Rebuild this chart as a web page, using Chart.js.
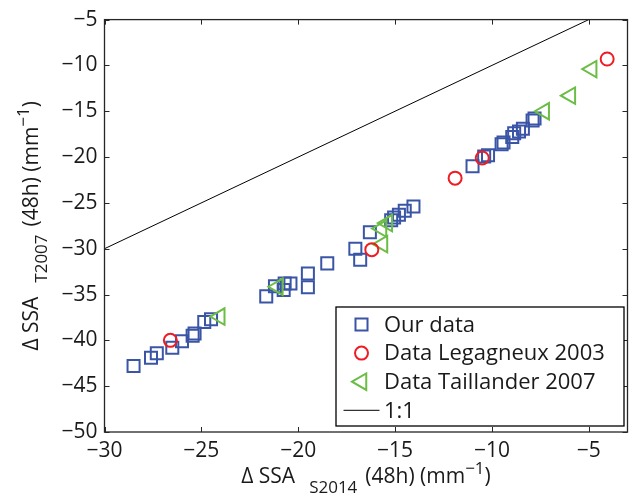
<!DOCTYPE html>
<html lang="en">
<head>
<meta charset="UTF-8">
<title>Delta SSA S2014 vs T2007</title>
<script src="https://cdn.jsdelivr.net/npm/chart.js"></script>
<style>
  html, body { margin: 0; padding: 0; background: #fff; }
  #wrap { width: 639px; height: 495px; }
</style>
</head>
<body>
<div id="wrap"><canvas id="ssaChart"></canvas></div>
<script>
// tick values
const xTickVals = [-30, -25, -20, -15, -10, -5];
const yTickVals = [-50, -45, -40, -35, -30, -25, -20, -15, -10, -5];

// Our data (blue squares)
const ourX = [-28.5, -27.6, -27.3, -26.5, -26.0, -25.45, -25.35, -24.85, -24.5,
  -21.65, -21.2, -20.75, -20.7, -20.4, -19.5, -19.5, -18.5, -17.05, -16.8, -16.3,
  -15.2, -15.05, -14.8, -14.5, -14.05, -11.0, -10.4, -10.2, -9.5, -9.4, -8.95, -8.85, -8.6, -8.4, -7.9, -7.8];
const ourY = [-42.8, -41.9, -41.4, -40.8, -40.1, -39.5, -39.25, -38.0, -37.7,
  -35.2, -34.1, -34.5, -33.8, -33.8, -34.2, -32.7, -31.6, -30.0, -31.2, -28.2,
  -26.9, -26.6, -26.3, -25.85, -25.4, -21.0, -19.95, -19.8, -18.6, -18.4, -17.8, -17.4, -17.2, -16.9, -16.0, -15.8];

// Legagneux 2003 (red circles)
const legX = [-26.6, -16.2, -11.9, -10.5, -4.05];
const legY = [-40.0, -30.1, -22.3, -20.1, -9.3];

// Taillander 2007 (green triangles)
const taiX = [-24.05, -21.05, -15.65, -15.7, -15.4, -7.3, -5.95, -4.85];
const taiY = [-37.4, -34.15, -29.5, -27.8, -27.2, -15.0, -13.3, -10.4];

// 1:1 line
const refX = [-30, -5];
const refY = [-30, -5];

const FONT = '"Open Sans", "DejaVu Sans", sans-serif';
const TXT = '#1a1a1a';
const AXIS = '#262626';

const pts = (xs, ys) => xs.map((v, i) => ({x: v, y: ys[i]}));
const minus = v => String(v).replace('-', '\u2212');

// hollow markers, used for the legend too
function marker(ctx, style, x, y, r, rot) {
  ctx.beginPath();
  if (style === 'rect') {
    const s = Math.SQRT1_2 * r;
    ctx.rect(x - s, y - s, 2 * s, 2 * s);
  } else if (style === 'circle') {
    ctx.arc(x, y, r, 0, Math.PI * 2);
  } else if (style === 'triangle') {
    let a = rot * Math.PI / 180;
    ctx.moveTo(x + Math.sin(a) * r, y - Math.cos(a) * r);
    for (let k = 0; k < 2; k++) {
      a += 2 * Math.PI / 3;
      ctx.lineTo(x + Math.sin(a) * r, y - Math.cos(a) * r);
    }
    ctx.closePath();
  } else {
    ctx.moveTo(x - 18, y);
    ctx.lineTo(x + 18, y);
  }
  ctx.stroke();
}

// box round the axes with inward ticks on all sides
const frameTicks = {
  id: 'frameTicks',
  afterDatasetsDraw(chart) {
    const {ctx, chartArea: a, scales: {x, y}} = chart;
    const len = 5;
    ctx.save();
    ctx.strokeStyle = AXIS;
    ctx.lineWidth = 1.3;
    ctx.strokeRect(a.left, a.top, a.right - a.left, a.bottom - a.top);
    ctx.beginPath();
    x.ticks.forEach(t => {
      const px = Math.round(x.getPixelForValue(t.value)) + 0.5;
      ctx.moveTo(px, a.bottom); ctx.lineTo(px, a.bottom - len);
      ctx.moveTo(px, a.top); ctx.lineTo(px, a.top + len);
    });
    y.ticks.forEach(t => {
      const py = Math.round(y.getPixelForValue(t.value)) + 0.5;
      ctx.moveTo(a.left, py); ctx.lineTo(a.left + len, py);
      ctx.moveTo(a.right, py); ctx.lineTo(a.right - len, py);
    });
    ctx.lineWidth = 1;
    ctx.stroke();
    ctx.restore();
  }
};

// legend box in the lower right corner
const boxLegend = {
  id: 'boxLegend',
  afterDraw(chart) {
    const {ctx, chartArea: a} = chart;
    const w = 288, h = 119;
    const left = a.right - 3.5 - w, top = a.bottom - 6 - h;
    ctx.save();
    ctx.fillStyle = '#fff';
    ctx.fillRect(left, top, w, h);
    ctx.strokeStyle = '#000';
    ctx.lineWidth = 1.3;
    ctx.strokeRect(left, top, w, h);
    ctx.font = '22px ' + FONT;
    ctx.textBaseline = 'middle';
    ctx.fillStyle = TXT;
    chart.data.datasets.forEach((ds, i) => {
      const cy = top + 17.5 + i * 28.6;
      ctx.strokeStyle = ds.borderColor;
      ctx.lineWidth = ds.showLine ? 1 : 2;
      marker(ctx, ds.showLine ? 'line' : ds.pointStyle, left + 25.5, cy, ds.pointRadius, ds.pointRotation || 0);
      ctx.fillText(ds.label, left + 48, cy + 1);
    });
    ctx.restore();
  }
};

// axis titles with sub/superscripts
function drawRuns(ctx, runs) {
  let x = 0;
  runs.forEach(r => {
    ctx.font = r.size + 'px ' + FONT;
    x += r.gap || 0;
    ctx.fillText(r.t, x, r.dy || 0);
    x += ctx.measureText(r.t).width;
  });
  return x;
}
function runsWidth(ctx, runs) {
  let x = 0;
  runs.forEach(r => { ctx.font = r.size + 'px ' + FONT; x += (r.gap || 0) + ctx.measureText(r.t).width; });
  return x;
}
const titles = {
  id: 'titles',
  afterDraw(chart) {
    const {ctx, chartArea: a} = chart;
    const xRuns = [
      {t: '\u0394 SSA', size: 21},
      {t: 'S2014', size: 17, dy: 10, gap: 14},
      {t: '(48h) (mm', size: 21, gap: 8},
      {t: '\u22121', size: 17, dy: -9},
      {t: ')', size: 21}
    ];
    const yRuns = [
      {t: '\u0394 SSA', size: 21},
      {t: 'T2007', size: 17, dy: 9, gap: 14},
      {t: '(48h) (mm', size: 21, gap: 8},
      {t: '\u22121', size: 17, dy: -9},
      {t: ')', size: 21}
    ];
    ctx.save();
    ctx.fillStyle = TXT;
    ctx.textBaseline = 'alphabetic';
    const cx = (a.left + a.right) / 2, cy = (a.top + a.bottom) / 2;
    let w = runsWidth(ctx, xRuns);
    ctx.save();
    ctx.translate(cx - w / 2, 483);
    drawRuns(ctx, xRuns);
    ctx.restore();
    w = runsWidth(ctx, yRuns);
    ctx.translate(38, cy + w / 2);
    ctx.rotate(-Math.PI / 2);
    drawRuns(ctx, yRuns);
    ctx.restore();
  }
};

const tickFont = {family: FONT, size: 21};

new Chart(document.getElementById('ssaChart'), {
  type: 'scatter',
  data: {
    datasets: [
      {label: 'Our data', data: pts(ourX, ourY), pointStyle: 'rect', pointRadius: 8.5,
        borderColor: '#3a55a5', backgroundColor: 'rgba(0,0,0,0)', pointBorderWidth: 2, order: 4},
      {label: 'Data Legagneux 2003', data: pts(legX, legY), pointStyle: 'circle', pointRadius: 6.5,
        borderColor: '#ee1d24', backgroundColor: 'rgba(0,0,0,0)', pointBorderWidth: 2, order: 2},
      {label: 'Data Taillander 2007', data: pts(taiX, taiY), pointStyle: 'triangle', pointRadius: 9.5,
        pointRotation: -90, borderColor: '#6bbd45', backgroundColor: 'rgba(0,0,0,0)', pointBorderWidth: 2, order: 3},
      {label: '1:1', data: pts(refX, refY), showLine: true, pointRadius: 0, borderColor: '#000',
        borderWidth: 1, backgroundColor: '#000', order: 1}
    ]
  },
  options: {
    responsive: true,
    maintainAspectRatio: false,
    animation: false,
    events: [],
    layout: {padding: {top: 13.5, right: 5.5, left: 0, bottom: 0}},
    plugins: {legend: {display: false}, tooltip: {enabled: false}},
    scales: {
      x: {
        type: 'linear', position: 'bottom', min: -30, max: -3,
        grid: {display: false, drawTicks: false},
        border: {display: false},
        afterBuildTicks: s => { s.ticks = xTickVals.map(v => ({value: v})); },
        afterFit: s => { s.height = 63; },
        ticks: {font: tickFont, color: TXT, padding: 6, maxRotation: 0, callback: v => minus(v)}
      },
      y: {
        type: 'linear', min: -50, max: -5,
        grid: {display: false, drawTicks: false},
        border: {display: false},
        afterBuildTicks: s => { s.ticks = yTickVals.map(v => ({value: v})); },
        afterFit: s => { s.width = 104.5; },
        ticks: {font: tickFont, color: TXT, padding: 7, callback: v => minus(v)}
      }
    }
  },
  plugins: [frameTicks, boxLegend, titles]
});
</script>
</body>
</html>
